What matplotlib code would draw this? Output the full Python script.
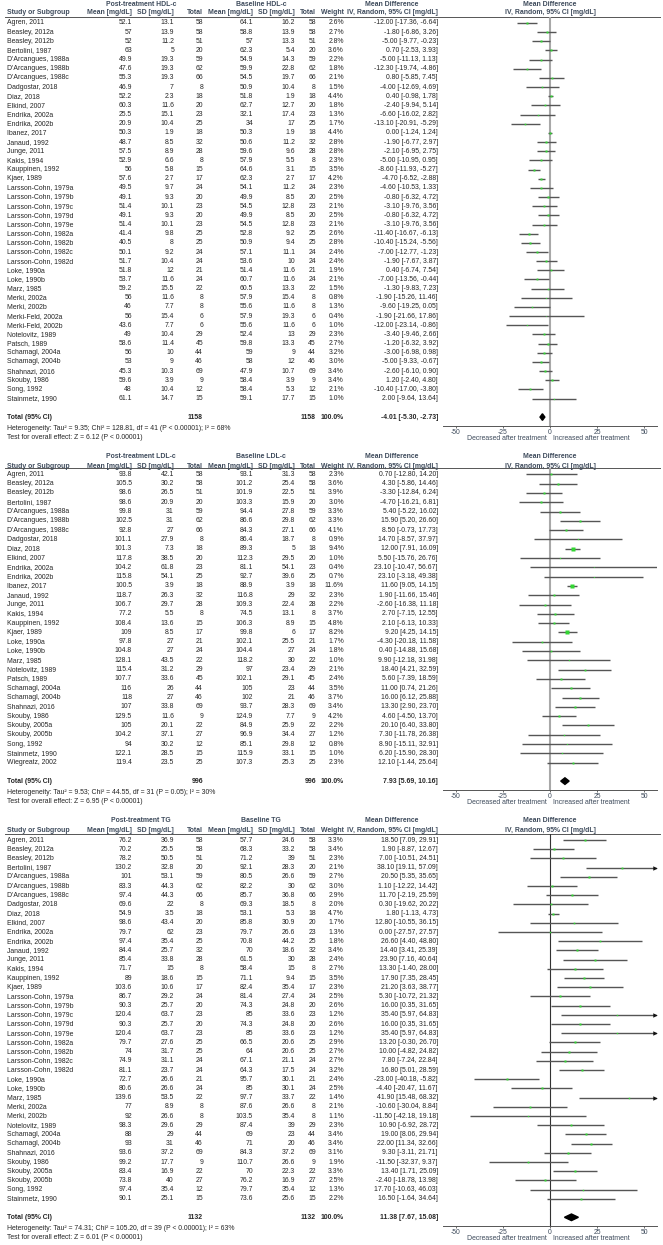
import matplotlib
matplotlib.use('Agg')
import matplotlib.pyplot as plt
from matplotlib.patches import Polygon

plt.rcParams['font.family'] = ['Liberation Sans', 'DejaVu Sans']

# ---------------- HDL-c ----------------
hdl_studies = ["Agren, 2011", "Beasley, 2012a", "Beasley, 2012b", "Bertolini, 1987",
               "D'Arcangues, 1988a", "D'Arcangues, 1988b", "D'Arcangues, 1988c",
               "Dadgostar, 2018", "Diaz, 2018", "Elkind, 2007", "Endrika, 2002a",
               "Endrika, 2002b", "Ibanez, 2017", "Janaud, 1992", "Junge, 2011",
               "Kakis, 1994", "Kauppinen, 1992", "Kjaer, 1989", "Larsson-Cohn, 1979a",
               "Larsson-Cohn, 1979b", "Larsson-Cohn, 1979c", "Larsson-Cohn, 1979d",
               "Larsson-Cohn, 1979e", "Larsson-Cohn, 1982a", "Larsson-Cohn, 1982b",
               "Larsson-Cohn, 1982c", "Larsson-Cohn, 1982d", "Loke, 1990a", "Loke, 1990b",
               "Marz, 1985", "Merki, 2002a", "Merki, 2002b", "Merki-Feld, 2002a",
               "Merki-Feld, 2002b", "Notelovitz, 1989", "Patsch, 1989", "Schamagl, 2004a",
               "Schamagl, 2004b", "Shahnazi, 2016", "Skouby, 1986", "Song, 1992",
               "Stainmetz, 1990"]
hdl_post_mean = [52.1, 57, 52, 63, 49.9, 47.6, 55.3, 46.9, 52.2, 60.3, 25.5, 20.9, 50.3, 48.7,
                 57.5, 52.9, 56, 57.6, 49.5, 49.1, 51.4, 49.1, 51.4, 41.4, 40.5, 50.1, 51.7,
                 51.8, 53.7, 59.2, 56, 46, 56, 43.6, 49, 58.6, 56, 53, 45.3, 59.6, 48, 61.1]
hdl_post_sd = [13.1, 13.9, 11.2, 5, 19.3, 19.3, 19.3, 7, 2.3, 11.6, 15.1, 10.4, 1.9, 8.5, 8.9,
               6.6, 5.8, 2.7, 9.7, 9.3, 10.1, 9.3, 10.1, 9.8, 8, 9.2, 10.4, 12, 11.6, 15.5,
               11.6, 7.7, 15.4, 7.7, 10.4, 11.4, 10, 9, 10.3, 3.9, 10.4, 14.7]
hdl_n = [58, 58, 51, 20, 59, 62, 66, 8, 18, 20, 23, 25, 18, 32, 28, 8, 15, 17, 24, 20, 23, 20,
         23, 25, 25, 24, 24, 21, 24, 22, 8, 8, 6, 6, 29, 45, 44, 46, 69, 9, 12, 15]
hdl_base_mean = [64.1, 58.8, 57, 62.3, 54.9, 59.9, 54.5, 50.9, 51.8, 62.7, 32.1, 34, 50.3, 50.6,
                 59.6, 57.9, 64.6, 62.3, 54.1, 49.9, 54.5, 49.9, 54.5, 52.8, 50.9, 57.1, 53.6,
                 51.4, 60.7, 60.5, 57.9, 55.6, 57.9, 55.6, 52.4, 59.8, 59, 58, 47.9, 58.4, 58.4,
                 59.1]
hdl_base_sd = [16.2, 13.9, 13.3, 5.4, 14.3, 22.8, 19.7, 10.4, 1.9, 12.7, 17.4, 17, 1.9, 11.2,
               9.6, 5.5, 3.1, 2.7, 11.2, 8.5, 12.8, 8.5, 12.8, 9.2, 9.4, 11.1, 10, 11.6, 11.6,
               13.3, 15.4, 11.6, 19.3, 11.6, 13, 13.3, 9, 12, 10.7, 3.9, 5.3, 17.7]
hdl_weight = [2.6, 2.7, 2.8, 3.6, 2.2, 1.8, 2.1, 1.5, 4.4, 1.8, 1.3, 1.7, 4.4, 2.8, 2.8, 2.3,
              3.5, 4.2, 2.3, 2.5, 2.1, 2.5, 2.1, 2.6, 2.8, 2.4, 2.4, 1.9, 2.1, 1.5, 0.8, 1.3,
              0.4, 1.0, 2.3, 2.7, 3.2, 3.0, 3.4, 3.4, 2.1, 1.0]
hdl_md = [-12.00, -1.80, -5.00, 0.70, -5.00, -12.30, 0.80, -4.00, 0.40, -2.40, -6.60, -13.10,
          0.00, -1.90, -2.10, -5.00, -8.60, -4.70, -4.60, -0.80, -3.10, -0.80, -3.10, -11.40,
          -10.40, -7.00, -1.90, 0.40, -7.00, -1.30, -1.90, -9.60, -1.90, -12.00, -3.40, -1.20,
          -3.00, -5.00, -2.60, 1.20, -10.40, 2.00]
hdl_lo = [-17.36, -6.86, -9.77, -2.53, -11.13, -19.74, -5.85, -12.69, -0.98, -9.94, -16.02,
          -20.91, -1.24, -6.77, -6.95, -10.95, -11.93, -6.52, -10.53, -6.32, -9.76, -6.32,
          -9.76, -16.67, -15.24, -12.77, -7.67, -6.74, -13.56, -9.83, -15.26, -19.25, -21.66,
          -23.14, -9.46, -6.32, -6.98, -9.33, -6.10, -2.40, -17.00, -9.64]
hdl_hi = [-6.64, 3.26, -0.23, 3.93, 1.13, -4.86, 7.45, 4.69, 1.78, 5.14, 2.82, -5.29, 1.24,
          2.97, 2.75, 0.95, -5.27, -2.88, 1.33, 4.72, 3.56, 4.72, 3.56, -6.13, -5.56, -1.23,
          3.87, 7.54, -0.44, 7.23, 11.46, 0.05, 17.86, -0.86, 2.66, 3.92, 0.98, -0.67, 0.90,
          4.80, -3.80, 13.64]
hdl_total = [1158, -4.01, -5.30, -2.73]
hdl_het = "Heterogeneity: Tau\u00b2 = 9.35; Chi\u00b2 = 128.81, df = 41 (P < 0.00001); I\u00b2 = 68%"
hdl_test = "Test for overall effect: Z = 6.12 (P < 0.00001)"

# ---------------- LDL-c ----------------
ldl_studies = ["Agren, 2011", "Beasley, 2012a", "Beasley, 2012b", "Bertolini, 1987",
               "D'Arcangues, 1988a", "D'Arcangues, 1988b", "D'Arcangues, 1988c",
               "Dadgostar, 2018", "Diaz, 2018", "Elkind, 2007", "Endrika, 2002a",
               "Endrika, 2002b", "Ibanez, 2017", "Janaud, 1992", "Junge, 2011", "Kakis, 1994",
               "Kauppinen, 1992", "Kjaer, 1989", "Loke, 1990a", "Loke, 1990b", "Marz, 1985",
               "Notelovitz, 1989", "Patsch, 1989", "Schamagl, 2004a", "Schamagl, 2004b",
               "Shahnazi, 2016", "Skouby, 1986", "Skouby, 2005a", "Skouby, 2005b",
               "Song, 1992", "Stainmetz, 1990", "Wiegreatz, 2002"]
ldl_post_mean = [93.8, 105.5, 98.6, 98.6, 99.8, 102.5, 92.8, 101.1, 101.3, 117.8, 104.2, 115.8,
                 100.5, 118.7, 106.7, 77.2, 108.4, 109, 97.8, 104.8, 128.1, 115.4, 107.7, 116,
                 118, 107, 129.5, 105, 104.2, 94, 122.1, 119.4]
ldl_post_sd = [42.1, 30.2, 26.5, 20.9, 31, 31, 27, 27.9, 7.3, 38.5, 61.8, 54.1, 3.9, 26.3, 29.7,
               5.5, 13.6, 8.5, 27, 27, 43.5, 31.2, 33.6, 26, 27, 33.8, 11.6, 20.1, 37.1, 30.2,
               28.5, 23.5]
ldl_n = [58, 58, 51, 20, 59, 62, 66, 8, 18, 20, 23, 25, 18, 32, 28, 8, 15, 17, 21, 24, 22, 29,
         45, 44, 46, 69, 9, 22, 27, 12, 15, 25]
ldl_base_mean = [93.1, 101.2, 101.9, 103.3, 94.4, 86.6, 84.3, 86.4, 89.3, 112.3, 81.1, 92.7,
                 88.9, 116.8, 109.3, 74.5, 106.3, 99.8, 102.1, 104.4, 118.2, 97, 102.1, 105,
                 102, 93.7, 124.9, 84.9, 96.9, 85.1, 115.9, 107.3]
ldl_base_sd = [31.3, 25.4, 22.5, 15.9, 27.8, 29.8, 27.1, 18.7, 5, 29.5, 54.1, 39.6, 3.9, 29,
               22.4, 13.1, 8.9, 6, 25.5, 27, 30, 23.4, 29.1, 23, 21, 28.3, 7.7, 25.9, 34.4,
               29.8, 33.1, 25.3]
ldl_weight = [2.3, 3.6, 3.9, 3.0, 3.3, 3.3, 4.1, 0.9, 9.4, 1.0, 0.4, 0.7, 11.6, 2.3, 2.2, 3.7,
              4.8, 8.2, 1.7, 1.8, 1.0, 2.1, 2.4, 3.5, 3.7, 3.4, 4.2, 2.2, 1.2, 0.8, 1.0, 2.3]
ldl_md = [0.70, 4.30, -3.30, -4.70, 5.40, 15.90, 8.50, 14.70, 12.00, 5.50, 23.10, 23.10, 11.60,
          1.90, -2.60, 2.70, 2.10, 9.20, -4.30, 0.40, 9.90, 18.40, 5.60, 11.00, 16.00, 13.30,
          4.60, 20.10, 7.30, 8.90, 6.20, 12.10]
ldl_lo = [-12.80, -5.86, -12.84, -16.21, -5.22, 5.20, -0.73, -8.57, 7.91, -15.76, -10.47, -3.18,
          9.05, -11.66, -16.38, -7.15, -6.13, 4.25, -20.18, -14.88, -12.18, 4.21, -7.39, 0.74,
          6.12, 2.90, -4.50, 6.40, -11.78, -15.11, -15.90, -1.44]
ldl_hi = [14.20, 14.46, 6.24, 6.81, 16.02, 26.60, 17.73, 37.97, 16.09, 26.76, 56.67, 49.38,
          14.15, 15.46, 11.18, 12.55, 10.33, 14.15, 11.58, 15.68, 31.98, 32.59, 18.59, 21.26,
          25.88, 23.70, 13.70, 33.80, 26.38, 32.91, 28.30, 25.64]
ldl_total = [996, 7.93, 5.69, 10.16]
ldl_het = "Heterogeneity: Tau\u00b2 = 9.53; Chi\u00b2 = 44.55, df = 31 (P = 0.05); I\u00b2 = 30%"
ldl_test = "Test for overall effect: Z = 6.95 (P < 0.00001)"

# ---------------- TG ----------------
tg_studies = ["Agren, 2011", "Beasley, 2012a", "Beasley, 2012b", "Bertolini, 1987",
              "D'Arcangues, 1988a", "D'Arcangues, 1988b", "D'Arcangues, 1988c",
              "Dadgostar, 2018", "Diaz, 2018", "Elkind, 2007", "Endrika, 2002a",
              "Endrika, 2002b", "Janaud, 1992", "Junge, 2011", "Kakis, 1994",
              "Kauppinen, 1992", "Kjaer, 1989", "Larsson-Cohn, 1979a", "Larsson-Cohn, 1979b",
              "Larsson-Cohn, 1979c", "Larsson-Cohn, 1979d", "Larsson-Cohn, 1979e",
              "Larsson-Cohn, 1982a", "Larsson-Cohn, 1982b", "Larsson-Cohn, 1982c",
              "Larsson-Cohn, 1982d", "Loke, 1990a", "Loke, 1990b", "Marz, 1985",
              "Merki, 2002a", "Merki, 2002b", "Notelovitz, 1989", "Schamagl, 2004a",
              "Schamagl, 2004b", "Shahnazi, 2016", "Skouby, 1986", "Skouby, 2005a",
              "Skouby, 2005b", "Song, 1992", "Stainmetz, 1990"]
tg_post_mean = [76.2, 70.2, 78.2, 130.2, 101, 83.3, 97.4, 69.6, 54.9, 98.6, 79.7, 97.4, 84.4,
                85.4, 71.7, 89, 103.6, 86.7, 90.3, 120.4, 90.3, 120.4, 79.7, 74, 74.9, 81.1,
                72.7, 80.6, 139.6, 77, 92, 98.3, 88, 93, 93.6, 99.2, 83.4, 73.8, 97.4, 90.1]
tg_post_sd = [36.9, 25.5, 50.5, 32.8, 53.1, 44.3, 44.3, 22, 3.5, 43.4, 62, 35.4, 25.7, 33.8, 15,
              18.6, 10.6, 29.2, 25.7, 63.7, 25.7, 63.7, 27.6, 31.7, 31.1, 23.7, 26.6, 26.6,
              53.5, 8.9, 26.6, 29.6, 29, 31, 37.2, 17.7, 16.9, 40, 35.4, 25.1]
tg_n = [58, 58, 51, 20, 59, 62, 66, 8, 18, 20, 23, 25, 32, 28, 8, 15, 17, 24, 20, 23, 20, 23,
        25, 25, 24, 24, 21, 24, 22, 8, 8, 29, 44, 46, 69, 9, 22, 27, 12, 15]
tg_base_mean = [57.7, 68.3, 71.2, 92.1, 80.5, 82.2, 85.7, 69.3, 53.1, 85.8, 79.7, 70.8, 70,
                61.5, 58.4, 71.1, 82.4, 81.4, 74.3, 85, 74.3, 85, 66.5, 64, 67.1, 64.3, 95.7,
                85, 97.7, 87.6, 103.5, 87.4, 69, 71, 84.3, 110.7, 70, 76.2, 79.7, 73.6]
tg_base_sd = [24.6, 33.2, 39, 28.3, 26.6, 30, 36.8, 18.5, 5.3, 30.9, 26.6, 44.2, 18.6, 30, 15,
              9.4, 35.4, 27.4, 24.8, 33.6, 24.8, 33.6, 20.6, 20.6, 21.1, 17.5, 30.1, 30.1,
              33.7, 26.6, 35.4, 39, 23, 20, 37.2, 26.6, 22.3, 16.9, 35.4, 25.6]
tg_weight = [3.3, 3.4, 2.3, 2.1, 2.7, 3.0, 2.9, 2.0, 4.7, 1.7, 1.3, 1.8, 3.4, 2.4, 2.7, 3.5,
             2.3, 2.5, 2.6, 1.2, 2.6, 1.2, 2.9, 2.7, 2.7, 3.2, 2.4, 2.5, 1.4, 2.1, 1.1, 2.3,
             3.4, 3.4, 3.1, 1.9, 3.3, 2.5, 1.3, 2.2]
tg_md = [18.50, 1.90, 7.00, 38.10, 20.50, 1.10, 11.70, 0.30, 1.80, 12.80, 0.00, 26.60, 14.40,
         23.90, 13.30, 17.90, 21.20, 5.30, 16.00, 35.40, 16.00, 35.40, 13.20, 10.00, 7.80,
         16.80, -23.00, -4.40, 41.90, -10.60, -11.50, 10.90, 19.00, 22.00, 9.30, -11.50,
         13.40, -2.40, 17.70, 16.50]
tg_lo = [7.09, -8.87, -10.51, 19.11, 5.35, -12.22, -2.19, -19.62, -1.13, -10.55, -27.57, 4.40,
         3.41, 7.16, -1.40, 7.35, 3.63, -10.72, 0.35, 5.97, 0.35, 5.97, -0.30, -4.82, -7.24,
         5.01, -40.18, -20.47, 15.48, -30.04, -42.18, -6.92, 8.06, 11.34, -3.11, -32.37, 1.71,
         -18.78, -10.63, -1.64]
tg_hi = [29.91, 12.67, 24.51, 57.09, 35.65, 14.42, 25.59, 20.22, 4.73, 36.15, 27.57, 48.80,
         25.39, 40.64, 28.00, 28.45, 38.77, 21.32, 31.65, 64.83, 31.65, 64.83, 26.70, 24.82,
         22.84, 28.59, -5.82, 11.67, 68.32, 8.84, 19.18, 28.72, 29.94, 32.66, 21.71, 9.37,
         25.09, 13.98, 46.03, 34.64]
tg_total = [1132, 11.38, 7.67, 15.08]
tg_het = "Heterogeneity: Tau\u00b2 = 74.31; Chi\u00b2 = 105.20, df = 39 (P < 0.00001); I\u00b2 = 63%"
tg_test = "Test for overall effect: Z = 6.01 (P < 0.00001)"

W, H = 663, 1245
FS = 4.95
HEAD = '#3e4b5c'
BODY = '#262626'
XMAX = 56.8

fig = plt.figure(figsize=(W / 100, H / 100), dpi=100)
ax = fig.add_axes([0, 0, 1, 1])
ax.set_xlim(0, W)
ax.set_ylim(H, 0)
ax.axis('off')

cols = [132, 174, 203, 253, 295, 316, 344, 438]
col_heads = ['Mean [mg/dL]', 'SD [mg/dL]', 'Total', 'Mean [mg/dL]', 'SD [mg/dL]', 'Total',
             'Weight', 'IV, Random, 95% CI [mg/dL]']


def t(x, y, s, ha='left', bold=False, color=BODY):
    ax.text(x, y, s, ha=ha, va='center', fontsize=FS,
            fontweight='bold' if bold else 'normal', color=color)


def panel(label, names, pm, psd, n, bm, bsd, w, md, lo, hi, tot, het, test,
          top, row0, step, zc, zlw):
    ys = [row0 + i * step for i in range(len(names))]
    ytot = ys[-1] + 18.5
    yax = ytot + 9
    line_y = row0 - 6

    # header
    t(141, top, 'Post-treatment ' + label, 'center', True, HEAD)
    t(261, top, 'Baseline ' + label, 'center', True, HEAD)
    t(392, top, 'Mean Difference', 'center', True, HEAD)
    t(550, top, 'Mean Difference', 'center', True, HEAD)
    hy = top + 9
    t(7, hy, 'Study or Subgroup', 'left', True, HEAD)
    for x, s in zip(cols, col_heads):
        t(x, hy, s, 'right', True, HEAD)
    t(550, hy, 'IV, Random, 95% CI [mg/dL]', 'center', True, HEAD)
    ax.plot([5, 660], [line_y, line_y], color='#555555', lw=0.7)

    # study rows
    for i, y in enumerate(ys):
        vals = ['%g' % pm[i], '%g' % psd[i], str(n[i]), '%g' % bm[i], '%g' % bsd[i],
                str(n[i]), '%.1f%%' % w[i], '%.2f [%.2f, %.2f]' % (md[i], lo[i], hi[i])]
        t(7, y, names[i])
        for x, s in zip(cols, vals):
            t(x, y, s, 'right')

    # total rows
    t(7, ytot, 'Total (95% CI)', 'left', True)
    t(cols[2], ytot, str(tot[0]), 'right', True)
    t(cols[5], ytot, str(tot[0]), 'right', True)
    t(cols[6], ytot, '100.0%', 'right', True)
    t(cols[7], ytot, '%.2f [%.2f, %.2f]' % (tot[1], tot[2], tot[3]), 'right', True)
    t(7, ytot + 11, het)
    t(7, ytot + 20.3, test)

    # forest plot
    left = 550 - XMAX * 1.885
    fa = fig.add_axes([left / W, 1 - yax / H, 2 * XMAX * 1.885 / W, (yax - line_y) / H])
    fa.patch.set_visible(False)
    fa.set_xlim(-XMAX, XMAX)
    fa.set_ylim(yax, line_y)
    for s in ['top', 'left', 'right']:
        fa.spines[s].set_visible(False)
    fa.spines['bottom'].set_color('#555555')
    fa.spines['bottom'].set_linewidth(0.7)
    fa.set_yticks([])
    fa.set_xticks([-50, -25, 0, 25, 50])
    fa.set_xticklabels(['-50', '-25', '0', '25', '50'])
    fa.tick_params(axis='x', labelsize=FS, length=1.6, width=0.6, pad=0.3,
                   colors='#555555', labelcolor=HEAD)
    fa.axvline(0, color=zc, lw=zlw, zorder=1)

    for i, y in enumerate(ys):
        fa.plot([lo[i], min(hi[i], XMAX)], [y, y], color='#555555', lw=1.0,
                solid_capstyle='butt', zorder=2)
        if hi[i] > XMAX:
            fa.plot(XMAX - 1.0, y, marker='>', ms=3.2, color='#111111', mec='none',
                    clip_on=False, zorder=3)
        side = 1.25 * w[i] ** 0.5
        fa.plot(md[i], y, marker='s', ms=side * 0.72, color='#33d633', mec='none', zorder=3)

    d = 3.3
    fa.add_patch(Polygon([(tot[2], ytot), (tot[1], ytot - d), (tot[3], ytot), (tot[1], ytot + d)],
                         closed=True, color='black', zorder=4))

    t(547, yax + 12.5, 'Decreased after treatment', 'right', False, HEAD)
    t(553, yax + 12.5, 'Increased after treatment', 'left', False, HEAD)


panel('HDL-c', hdl_studies, hdl_post_mean, hdl_post_sd, hdl_n, hdl_base_mean, hdl_base_sd,
      hdl_weight, hdl_md, hdl_lo, hdl_hi, hdl_total, hdl_het, hdl_test,
      4, 23, 9.16, '#a8a8a8', 1.5)
panel('LDL-c', ldl_studies, ldl_post_mean, ldl_post_sd, ldl_n, ldl_base_mean, ldl_base_sd,
      ldl_weight, ldl_md, ldl_lo, ldl_hi, ldl_total, ldl_het, ldl_test,
      457, 474.3, 9.3, '#a8a8a8', 1.5)
panel('TG', tg_studies, tg_post_mean, tg_post_sd, tg_n, tg_base_mean, tg_base_sd,
      tg_weight, tg_md, tg_lo, tg_hi, tg_total, tg_het, tg_test,
      821, 840, 9.2, '#333333', 0.8)

fig.savefig('out.png', dpi=100)
